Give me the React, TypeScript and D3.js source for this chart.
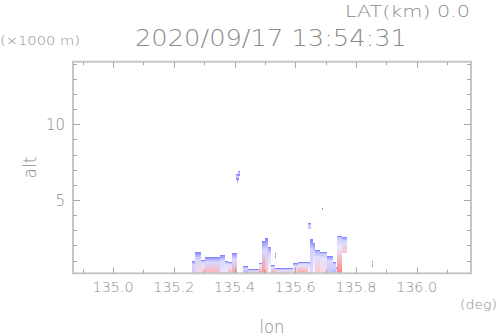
import React from "react";
import * as d3 from "d3";

// ---- data (lon in deg, alt in km, velocity-like value for colour) ----
const segLon0 = [135.2595, 135.2694, 135.2892, 135.3023, 135.3518, 135.3683, 135.3782, 135.3914, 135.4276, 135.4441, 135.4804, 135.4903, 135.5002, 135.5101, 135.519, 135.5331, 135.5925, 135.609, 135.6419, 135.6485, 135.6584, 135.665, 135.6815, 135.7046, 135.7244, 135.7343, 135.7376, 135.7541,
  135.4046, 135.4128, 135.4079, 135.6429, 135.6898, 135.8513, 135.5331];
const segLon1 = [135.2694, 135.2892, 135.3023, 135.3518, 135.3683, 135.3782, 135.3914, 135.4079, 135.4441, 135.4804, 135.4903, 135.5002, 135.5101, 135.519, 135.5331, 135.5925, 135.609, 135.6419, 135.6485, 135.6584, 135.665, 135.6815, 135.7046, 135.7244, 135.7343, 135.7376, 135.7541, 135.7706,
  135.4144, 135.4177, 135.4128, 135.6508, 135.6931, 135.8562, 135.5381];
const segBase = [null, null, null, null, null, null, null, null, null, null, null, null, null, null, null, null, null, null, null, null, null, null, null, null, null, null, null, 1.48,
  6.3, 6.6, 6.1, 3.07, 4.35, 0.6, 1.15];
const segTop = [0.99, 1.59, 1.04, 1.22, 1.34, 0.99, 0.91, 1.48, 0.64, 0.42, 0.86, 2.29, 2.49, 1.92, 0.71, 0.49, 0.82, 0.93, 0.91, 2.41, 2.14, 1.7, 1.59, 1.3, 0.93, 0.55, 2.62, 2.58,
  6.7, 6.95, 6.3, 3.46, 4.45, 1.0, 1.5];
const velBottom = [-3, 2, 3, 4, -1, 1, 4, 5, -4, 4, 6, 6, 3, 0, 5, 3, 3, 5, 0, -2, 0, 3, 2, -3, -4, -2, 7, 3,
  -7, -7, -7, -3, -7, -6, -7];
const velTop = [-7, -7, -4, -6, -6, -5, -4, -6, -7, -7, -3, -6, -7, -6, -5, -6, -5, -4, -5, -7, -6, -5, -4, -6, -6, -6, -3, -6,
  -7, -7, -7, -7, -7, -7, -7];

const xMajor = [135.0, 135.2, 135.4, 135.6, 135.8, 136.0];
const xMinor = [134.9, 135.1, 135.3, 135.5, 135.7, 135.9, 136.1];
const yMajor = [5, 10];
const yMinor = [1, 2, 3, 4, 6, 7, 8, 9, 11, 12, 13, 14];

const titleText = "2020/09/17 13:54:31";
const latText = "LAT(km) 0.0";

const W = 498, H = 336;
const L = 73, R = 471, T = 61.7, B = 273.3;
const TXT = "#8c8c8c";
const FRAME = "#c6c6c6";
const FONT = "'DejaVu Sans', sans-serif";
const FW = 200;

export default function App() {
  const x = d3.scaleLinear().domain([134.868, 136.179]).range([L, R]);
  const y = d3.scaleLinear().domain([0.16, 14.14]).range([B, T]);
  const ground = y.domain()[0];
  const col = d3.scaleLinear<string>()
    .domain([-8, 0, 8])
    .range(["rgb(105,105,255)", "rgb(250,250,255)", "rgb(255,110,110)"])
    .interpolate(d3.interpolateRgb)
    .clamp(true);

  const segs = segLon0.map((l0, i) => ({
    l0, l1: segLon1[i], b: segBase[i] == null ? ground : segBase[i], t: segTop[i], vb: velBottom[i], vt: velTop[i],
  }));

  const txt = (props: any, s: string) => (
    <text fill={TXT} fontWeight={FW} lengthAdjust="spacingAndGlyphs" {...props}>{s}</text>
  );

  return (
    <svg width={W} height={H} style={{ position: "absolute", left: 0, top: 0, background: "#fff" }}
      fontFamily={FONT}>
      <defs>
        {segs.map((s, i) => (
          <linearGradient key={i} id={`g${i}`} x1="0" y1="0" x2="0" y2="1">
            <stop offset="0" stopColor={col(s.vt)} />
            <stop offset="0.3" stopColor={col(s.vt * 0.3)} />
            <stop offset="1" stopColor={col(s.vb)} />
          </linearGradient>
        ))}
      </defs>

      {/* echoes */}
      <g shapeRendering="crispEdges">
        {segs.map((s, i) => {
          const x0 = x(s.l0), x1 = x(s.l1);
          const yt = y(s.t), yb = y(s.b);
          return (
            <g key={i}>
              <rect x={x0} y={yt} width={Math.max(1, x1 - x0)} height={Math.max(1, yb - yt)} fill={`url(#g${i})`} />
              <rect x={x0} y={yt} width={Math.max(1, x1 - x0)} height={1} fill={col(-6.5)} />
            </g>
          );
        })}
      </g>

      {/* frame */}
      <rect x={L} y={T} width={R - L} height={B - T} fill="none" stroke={FRAME} strokeWidth={2} />

      {/* ticks */}
      <g stroke="#a8a8a8" strokeWidth={1}>
        {xMajor.map((v) => (
          <g key={`xm${v}`}>
            <line x1={Math.round(x(v)) + 0.5} x2={Math.round(x(v)) + 0.5} y1={B} y2={B - 6} />
            <line x1={Math.round(x(v)) + 0.5} x2={Math.round(x(v)) + 0.5} y1={T} y2={T + 6} />
          </g>
        ))}
        {xMinor.map((v) => (
          <g key={`xn${v}`}>
            <line x1={Math.round(x(v)) + 0.5} x2={Math.round(x(v)) + 0.5} y1={B} y2={B - 3.5} />
            <line x1={Math.round(x(v)) + 0.5} x2={Math.round(x(v)) + 0.5} y1={T} y2={T + 3.5} />
          </g>
        ))}
        {yMajor.map((v) => (
          <g key={`ym${v}`}>
            <line x1={L} x2={L + 7} y1={Math.round(y(v)) + 0.5} y2={Math.round(y(v)) + 0.5} />
            <line x1={R} x2={R - 7} y1={Math.round(y(v)) + 0.5} y2={Math.round(y(v)) + 0.5} />
          </g>
        ))}
        {yMinor.map((v) => (
          <g key={`yn${v}`}>
            <line x1={L} x2={L + 4} y1={Math.round(y(v)) + 0.5} y2={Math.round(y(v)) + 0.5} />
            <line x1={R} x2={R - 4} y1={Math.round(y(v)) + 0.5} y2={Math.round(y(v)) + 0.5} />
          </g>
        ))}
      </g>

      {/* tick labels */}
      {xMajor.map((v) => (
        <React.Fragment key={`xl${v}`}>
          {txt({ x: x(v), y: 292, textAnchor: "middle", fontSize: 14, textLength: 41 }, d3.format(".1f")(v))}
        </React.Fragment>
      ))}
      {yMajor.map((v) => (
        <React.Fragment key={`yl${v}`}>
          {txt({ x: 65, y: y(v) + 5.5, textAnchor: "end", fontSize: 15 }, String(v))}
        </React.Fragment>
      ))}

      {/* titles */}
      {txt({ x: 470, y: 16.7, textAnchor: "end", fontSize: 16, textLength: 125 }, latText)}
      {txt({ x: 271, y: 46, textAnchor: "middle", fontSize: 23, textLength: 272 }, titleText)}
      {txt({ x: 0, y: 44.5, fontSize: 12, textLength: 80 }, "(×1000 m)")}
      {txt({ x: 497, y: 309, textAnchor: "end", fontSize: 12, textLength: 37 }, "(deg)")}
      {txt({ x: 272, y: 332.5, textAnchor: "middle", fontSize: 17, textLength: 25 }, "lon")}
      {txt({ transform: "translate(36,167.5) rotate(-90)", textAnchor: "middle", fontSize: 18, textLength: 22 }, "alt")}
    </svg>
  );
}
